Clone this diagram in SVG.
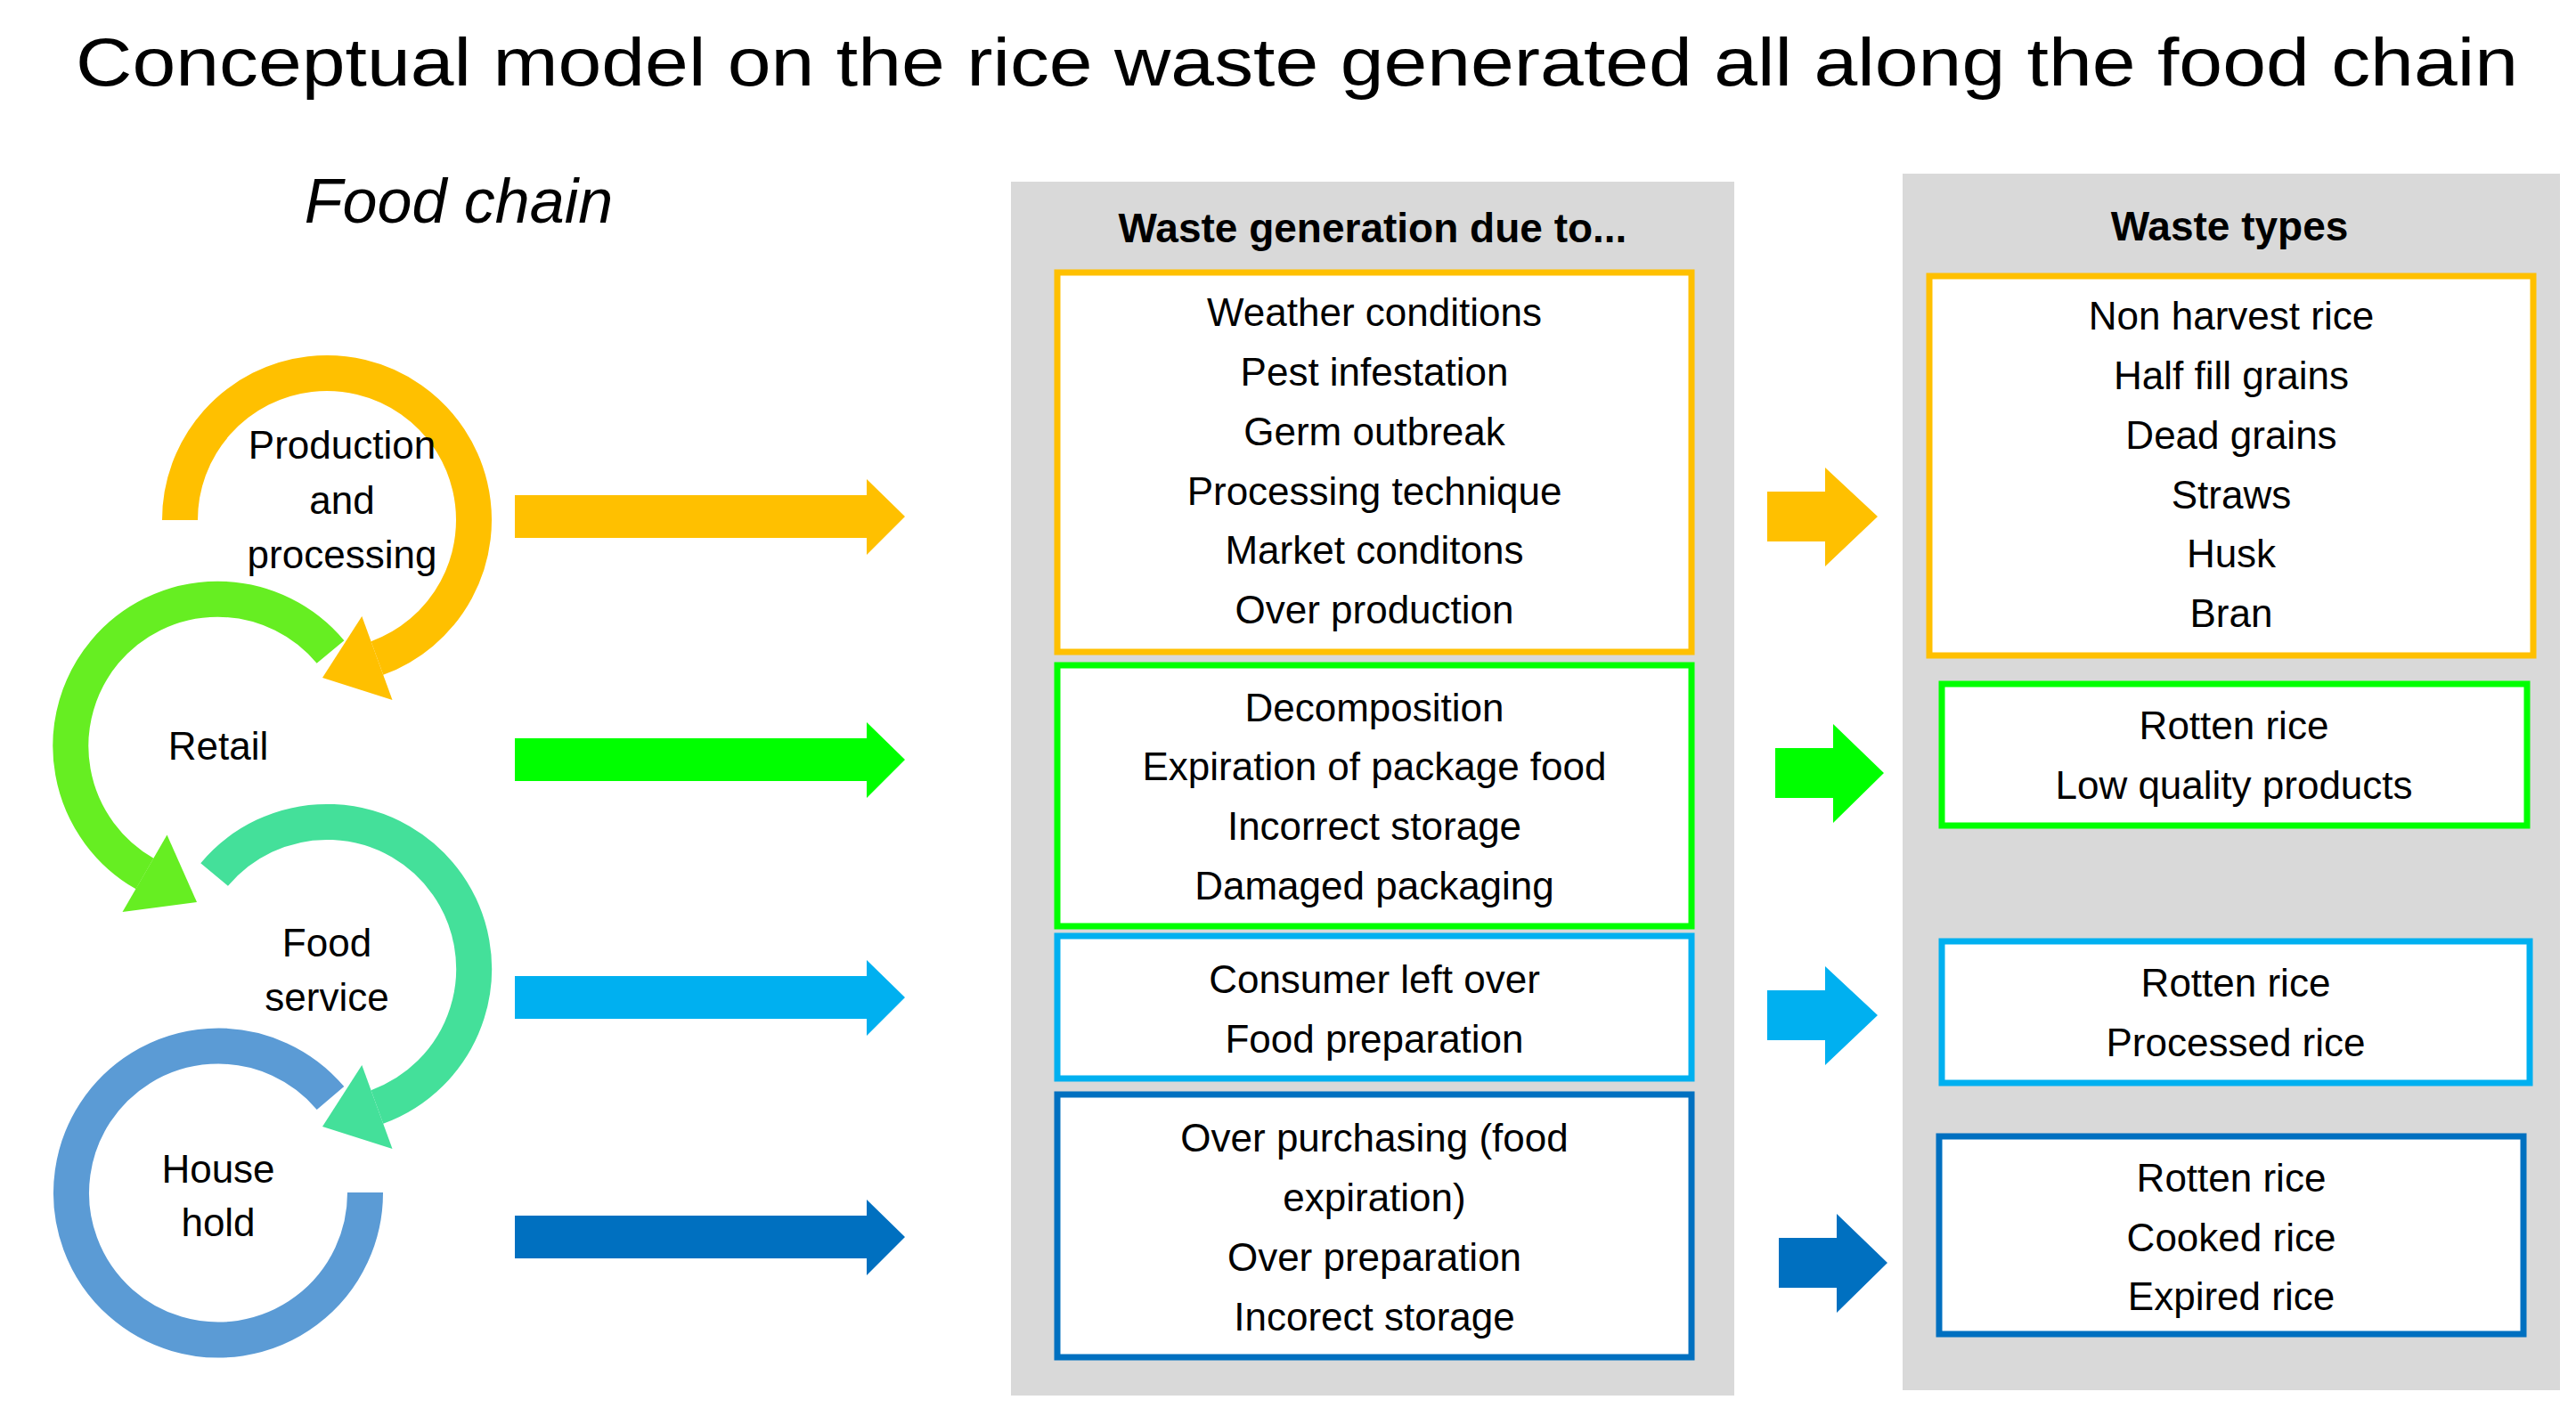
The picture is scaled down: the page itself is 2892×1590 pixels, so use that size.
<svg xmlns="http://www.w3.org/2000/svg" width="2892" height="1590" viewBox="0 0 2892 1590">
<style>
text{font-family:"Liberation Sans","Open Sans",sans-serif;fill:#000;text-anchor:middle}
.t{font-size:44px}
.c{font-size:44px}
.h{font-size:46px;font-weight:bold}
.box{fill:#fff;stroke-width:7}
.arc{fill:none;stroke-width:40}
</style>
<rect width="2892" height="1590" fill="#fff"/>
<text x="1456" y="96" style="font-size:76px" textLength="2742" lengthAdjust="spacingAndGlyphs">Conceptual model on the rice waste generated all along the food chain</text>
<text x="515" y="250" style="font-size:70px;font-style:italic">Food chain</text>

<g id="cycle">
<g id="production">
<path class="arc" stroke="#FFC000" d="M202,584 A165,165 0 1 1 423.4,739"/>
<polygon fill="#FFC000" points="440.5,786 406.3,692.1 362,761"/>
<text class="c" x="384" y="515">Production</text><text class="c" x="384" y="577">and</text><text class="c" x="384" y="638">processing</text>
</g>
<g id="retail">
<path class="arc" stroke="#66EE22" d="M371,732 A165,165 0 1 0 162.5,981"/>
<polygon fill="#66EE22" points="137.5,1024 187.5,937.6 221,1013"/>
<text class="c" x="245" y="853">Retail</text>
</g>
<g id="foodservice">
<path class="arc" stroke="#44E09A" d="M240.6,982 A165,165 0 1 1 423.4,1243"/>
<polygon fill="#44E09A" points="440.5,1290 406.3,1196 362,1265"/>
<text class="c" x="367" y="1074">Food</text><text class="c" x="367" y="1135">service</text>
</g>
<g id="household">
<path class="arc" stroke="#5B9BD5" d="M371,1233 A165,165 0 1 0 410,1339"/>
<text class="c" x="245" y="1328">House</text><text class="c" x="245" y="1388">hold</text>
</g>
</g>

<g id="connectors">
<polygon fill="#FFC000" points="578,556 973,556 973,538 1016,580 973,623 973,604 578,604"/>
<polygon fill="#00FF00" points="578,829 973,829 973,811 1016,853 973,896 973,877 578,877"/>
<polygon fill="#00B0F0" points="578,1096 973,1096 973,1078 1016,1120 973,1163 973,1144 578,1144"/>
<polygon fill="#0070C0" points="578,1365 973,1365 973,1347 1016,1389 973,1432 973,1413 578,1413"/>
<polygon fill="#FFC000" points="1984,552 2049,552 2049,525 2108,580 2049,636 2049,608 1984,608"/>
<polygon fill="#00FF00" points="1993,840 2058,840 2058,813 2115,868 2058,924 2058,896 1993,896"/>
<polygon fill="#00B0F0" points="1984,1112 2049,1112 2049,1085 2108,1140 2049,1196 2049,1168 1984,1168"/>
<polygon fill="#0070C0" points="1997,1390 2062,1390 2062,1363 2119,1418 2062,1474 2062,1446 1997,1446"/>
</g>

<g id="panel-causes">
<rect x="1135" y="204" width="812" height="1363" fill="#D9D9D9"/>
<text class="h" x="1541" y="272">Waste generation due to...</text>
<g id="causes-production">
<rect class="box" stroke="#FFC000" x="1187" y="306" width="712" height="426"/>
<text class="t" x="1543" y="366">Weather conditions</text><text class="t" x="1543" y="433">Pest infestation</text><text class="t" x="1543" y="500">Germ outbreak</text><text class="t" x="1543" y="567">Processing technique</text><text class="t" x="1543" y="633">Market conditons</text><text class="t" x="1543" y="700">Over production</text>
</g>
<g id="causes-retail">
<rect class="box" stroke="#00FF00" x="1187" y="747" width="712" height="293"/>
<text class="t" x="1543" y="810">Decomposition</text><text class="t" x="1543" y="876">Expiration of package food</text><text class="t" x="1543" y="943">Incorrect storage</text><text class="t" x="1543" y="1010">Damaged packaging</text>
</g>
<g id="causes-foodservice">
<rect class="box" stroke="#00B0F0" x="1187" y="1051" width="712" height="160"/>
<text class="t" x="1543" y="1115">Consumer left over</text><text class="t" x="1543" y="1182">Food preparation</text>
</g>
<g id="causes-household">
<rect class="box" stroke="#0070C0" x="1187" y="1229" width="712" height="295"/>
<text class="t" x="1543" y="1293">Over purchasing (food</text><text class="t" x="1543" y="1360">expiration)</text><text class="t" x="1543" y="1427">Over preparation</text><text class="t" x="1543" y="1494">Incorect storage</text>
</g>
</g>

<g id="panel-types">
<rect x="2136" y="195" width="738" height="1366" fill="#D9D9D9"/>
<text class="h" x="2503" y="270">Waste types</text>
<g id="types-production">
<rect class="box" stroke="#FFC000" x="2166" y="310" width="678" height="426"/>
<text class="t" x="2505" y="370">Non harvest rice</text><text class="t" x="2505" y="437">Half fill grains</text><text class="t" x="2505" y="504">Dead grains</text><text class="t" x="2505" y="571">Straws</text><text class="t" x="2505" y="637">Husk</text><text class="t" x="2505" y="704">Bran</text>
</g>
<g id="types-retail">
<rect class="box" stroke="#00FF00" x="2180" y="768" width="657" height="159"/>
<text class="t" x="2508" y="830">Rotten rice</text><text class="t" x="2508" y="897">Low quality products</text>
</g>
<g id="types-foodservice">
<rect class="box" stroke="#00B0F0" x="2180" y="1057" width="660" height="159"/>
<text class="t" x="2510" y="1119">Rotten rice</text><text class="t" x="2510" y="1186">Processed rice</text>
</g>
<g id="types-household">
<rect class="box" stroke="#0070C0" x="2177" y="1276" width="656" height="222"/>
<text class="t" x="2505" y="1338">Rotten rice</text><text class="t" x="2505" y="1405">Cooked rice</text><text class="t" x="2505" y="1471">Expired rice</text>
</g>
</g>
</svg>
